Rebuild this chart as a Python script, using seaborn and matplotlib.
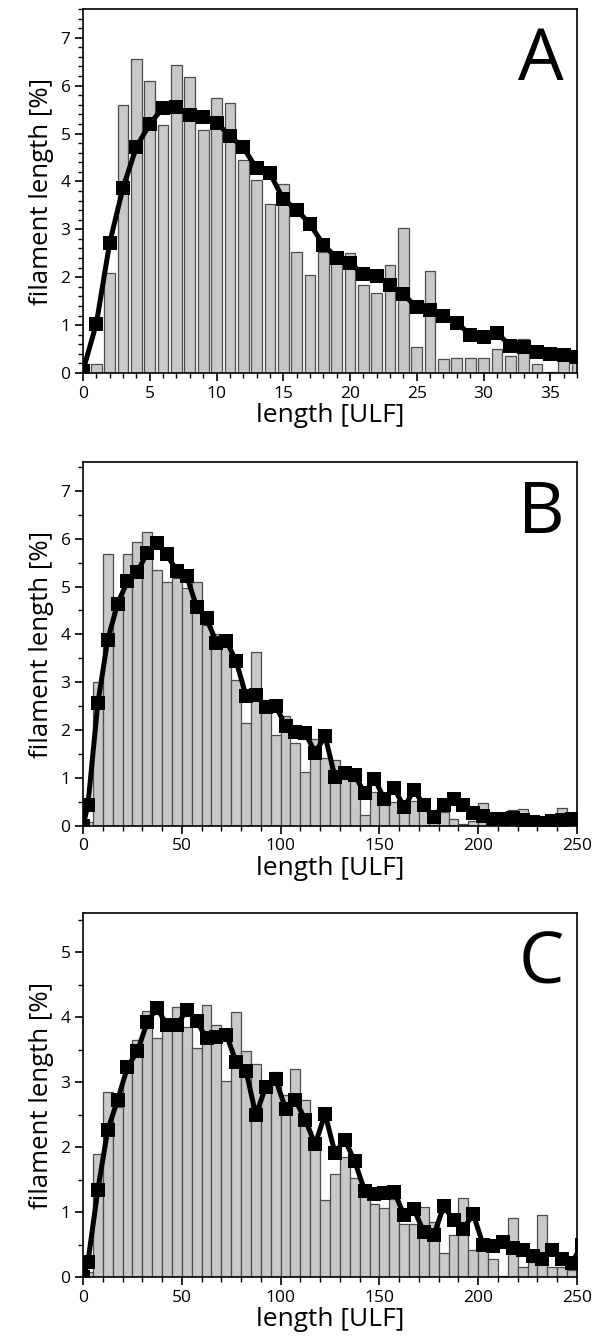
import numpy as np
import pandas as pd
import matplotlib
matplotlib.use("Agg")
import matplotlib.pyplot as plt
import seaborn as sns
from matplotlib.ticker import MultipleLocator

# ---------------- data ----------------
# Panel A: bars at integer lengths 1..37, line at 0..37
a_bar_x = list(range(1, 38))
a_bar_y = [0.18, 2.09, 5.59, 6.55, 6.09, 5.18, 6.43, 6.17, 5.07, 5.74,
           5.64, 4.45, 4.04, 3.52, 3.94, 2.53, 2.04, 2.53, 2.29, 2.51,
           1.83, 1.68, 2.26, 3.02, 0.54, 2.13, 0.29, 0.31, 0.31, 0.32,
           0.51, 0.35, 0.72, 0.18, 0.02, 0.42, 0.40]
a_line_x = list(range(0, 38))
a_line_y = [0.05, 1.03, 2.72, 3.87, 4.72, 5.20, 5.54, 5.55, 5.39, 5.34,
            5.23, 4.95, 4.71, 4.27, 4.17, 3.63, 3.41, 3.11, 2.68, 2.40,
            2.30, 2.06, 2.02, 1.83, 1.64, 1.37, 1.31, 1.18, 1.05, 0.80,
            0.75, 0.84, 0.57, 0.54, 0.43, 0.39, 0.38, 0.33]

# Panel B: bars of width 5 centred at 2.5, 7.5, ..., 247.5
b_bar_x = [2.5 + 5 * i for i in range(50)]
b_bar_y = [0.08, 3.00, 5.67, 4.60, 5.67, 5.92, 6.14, 5.34, 5.09, 5.17,
           4.97, 5.09, 4.20, 4.01, 3.80, 3.05, 2.16, 3.64, 2.40, 1.89,
           2.29, 1.74, 1.13, 1.81, 1.42, 1.37, 1.05, 0.95, 0.22, 0.70,
           0.52, 0.50, 0.38, 0.53, 0.33, 0.06, 0.30, 0.15, 0.05, 0.10,
           0.47, 0.04, 0.05, 0.33, 0.35, 0.05, 0.02, 0.05, 0.38, 0.10]
b_line_x = [0.0] + b_bar_x
b_line_y = [0.00, 0.44, 2.56, 3.89, 4.64, 5.11, 5.30, 5.71, 5.91, 5.67,
            5.32, 5.21, 4.58, 4.34, 3.83, 3.87, 3.44, 2.72, 2.74, 2.49,
            2.51, 2.09, 1.97, 1.94, 1.53, 1.88, 1.03, 1.11, 1.07, 0.68,
            0.99, 0.56, 0.79, 0.39, 0.75, 0.44, 0.19, 0.44, 0.56, 0.44,
            0.28, 0.21, 0.14, 0.14, 0.16, 0.12, 0.09, 0.06, 0.11, 0.12,
            0.14]

# Panel C
c_bar_x = [2.5 + 5 * i for i in range(50)]
c_bar_y = [0.08, 1.90, 2.84, 2.62, 3.30, 3.65, 4.10, 3.68, 3.85, 4.15,
           3.84, 3.52, 4.18, 3.87, 3.01, 4.07, 3.48, 3.27, 2.87, 3.16,
           2.80, 3.20, 2.73, 2.10, 1.19, 1.59, 1.84, 1.52, 1.26, 1.13,
           1.06, 1.20, 0.82, 0.82, 1.08, 0.84, 0.37, 0.65, 1.21, 0.41,
           0.50, 0.28, 0.02, 0.91, 0.15, 0.23, 0.96, 0.15, 0.15, 0.11]
c_line_x = [0.0] + c_bar_x + [252.5]
c_line_y = [0.00, 0.23, 1.34, 2.26, 2.72, 3.23, 3.47, 3.92, 4.14, 3.87,
            3.87, 4.11, 3.94, 3.67, 3.70, 3.73, 3.31, 3.17, 2.49, 2.93,
            3.04, 2.59, 2.72, 2.42, 2.04, 2.51, 1.91, 2.11, 1.78, 1.33,
            1.28, 1.29, 1.31, 0.95, 1.04, 0.69, 0.64, 1.09, 0.88, 0.74,
            0.97, 0.49, 0.48, 0.54, 0.44, 0.41, 0.33, 0.28, 0.41, 0.28,
            0.22, 0.50]

panel_letters = ["A", "B", "C"]
x_label = "length [ULF]"
y_label = "filament length [%]"

# ---------------- style ----------------
sns.set_style("ticks")
plt.rcParams["font.family"] = ["Open Sans", "DejaVu Sans"]
plt.rcParams["text.color"] = "black"
plt.rcParams["axes.labelcolor"] = "black"
plt.rcParams["xtick.color"] = "black"
plt.rcParams["ytick.color"] = "black"
plt.rcParams["axes.linewidth"] = 1.2
plt.rcParams["xtick.direction"] = "out"
plt.rcParams["ytick.direction"] = "out"

BAR_COLOR = "#c8c8c8"
EDGE_COLOR = "#4d4d4d"

fig = plt.figure(figsize=(5.92, 13.44), dpi=100)
ax_pos = [
    [83 / 592, 1 - 373 / 1344, 494 / 592, 364 / 1344],
    [83 / 592, 1 - 826 / 1344, 494 / 592, 364 / 1344],
    [83 / 592, 1 - 1277 / 1344, 494 / 592, 364 / 1344],
]

panels = [
    dict(bx=a_bar_x, by=a_bar_y, lx=a_line_x, ly=a_line_y, width=0.8,
         xlim=(0, 37), ylim=(0, 7.6), xmaj=5, xmin=1, ymaj=1, ymin=0.2),
    dict(bx=b_bar_x, by=b_bar_y, lx=b_line_x, ly=b_line_y, width=1.0,
         xlim=(0, 250), ylim=(0, 7.6), xmaj=50, xmin=10, ymaj=1, ymin=0.5),
    dict(bx=c_bar_x, by=c_bar_y, lx=c_line_x, ly=c_line_y, width=1.0,
         xlim=(0, 250), ylim=(0, 5.6), xmaj=50, xmin=10, ymaj=1, ymin=0.5),
]

for i, p in enumerate(panels):
    ax = fig.add_axes(ax_pos[i])
    bars = pd.DataFrame({"x": p["bx"], "y": p["by"]})
    line = pd.DataFrame({"x": p["lx"], "y": p["ly"]})
    sns.barplot(data=bars, x="x", y="y", native_scale=True, width=p["width"],
                color=BAR_COLOR, saturation=1, edgecolor=EDGE_COLOR,
                linewidth=0.9, errorbar=None, ax=ax)
    sns.lineplot(data=line, x="x", y="y", color="black", linewidth=3.6,
                 marker="s", markersize=10.5, markeredgecolor="black",
                 markeredgewidth=0, ax=ax, errorbar=None, sort=False)
    ax.set_xlim(*p["xlim"])
    ax.set_ylim(*p["ylim"])
    ax.xaxis.set_major_locator(MultipleLocator(p["xmaj"]))
    ax.xaxis.set_minor_locator(MultipleLocator(p["xmin"]))
    ax.yaxis.set_major_locator(MultipleLocator(p["ymaj"]))
    ax.yaxis.set_minor_locator(MultipleLocator(p["ymin"]))
    ax.tick_params(axis="both", which="major", length=6, width=1.2,
                   labelsize=12.5, pad=3, colors="black")
    ax.tick_params(axis="both", which="minor", length=3.5, width=1.0,
                   colors="black")
    ax.tick_params(top=False, right=False, which="both")
    for s in ax.spines.values():
        s.set_visible(True)
        s.set_color("black")
        s.set_linewidth(1.2)
    ax.set_xlabel(x_label, fontsize=19, labelpad=1, color="black")
    ax.set_ylabel(y_label, fontsize=18.5, labelpad=5, color="black")
    ax.text(0.927, 0.805, panel_letters[i], transform=ax.transAxes,
            fontsize=52, ha="center", va="baseline", color="black")
    if ax.get_legend() is not None:
        ax.get_legend().remove()

fig.savefig("out.png", dpi=100)
